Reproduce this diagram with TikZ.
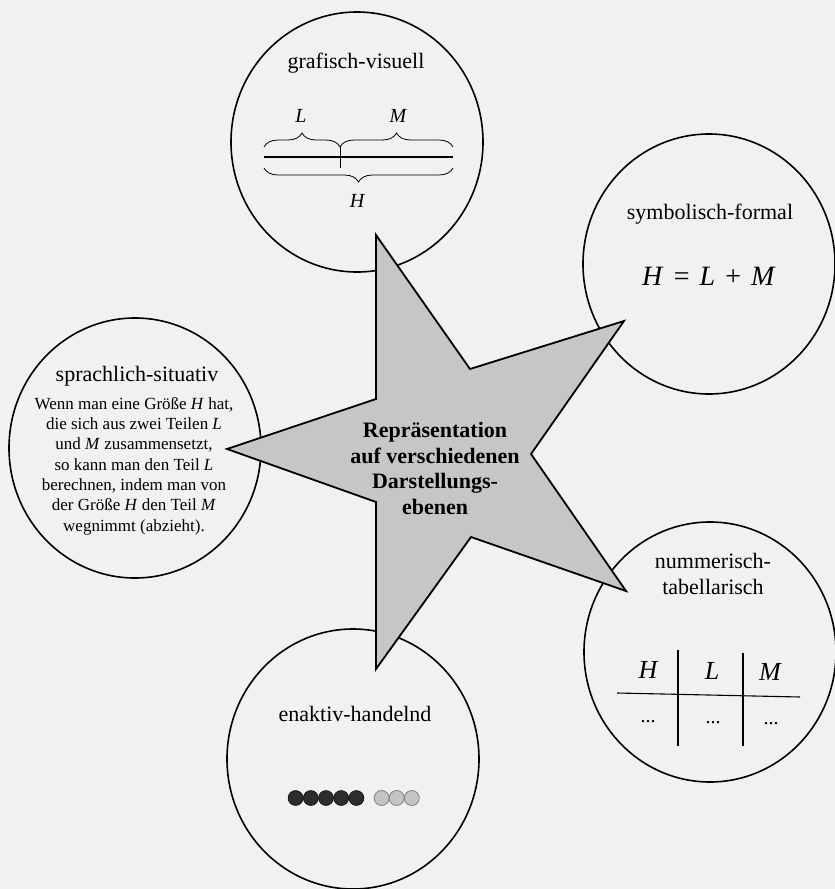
\documentclass[tikz,border=0pt]{standalone}
\usepackage{fontspec}
\setmainfont{Liberation Serif}
\usetikzlibrary{shapes.geometric,decorations.pathreplacing}
\definecolor{bgc}{RGB}{241,241,241}
\definecolor{starfill}{RGB}{198,198,198}
\definecolor{darkdot}{RGB}{45,45,45}
\definecolor{lightdot}{RGB}{196,196,196}
\begin{document}
\begin{tikzpicture}[x=1pt,y=-1pt,
  circ/.style={draw,line width=1.6pt,ellipse,minimum width=252pt,minimum height=260pt,inner sep=0pt},
  ttl/.style={font=\fontsize{22}{25}\selectfont,inner sep=0pt,anchor=base},
  bodytxt/.style={font=\fontsize{17}{20.3}\selectfont,align=center,inner sep=0pt},
  midtxt/.style={font=\fontsize{22}{25.7}\selectfont\bfseries,inner sep=0pt,anchor=base},
  lab/.style={font=\fontsize{20}{22}\selectfont\itshape,inner sep=0pt,anchor=base},
  tab/.style={font=\fontsize{26}{28}\selectfont\itshape,inner sep=0pt,anchor=base},
  tdots/.style={font=\fontsize{20}{22}\selectfont,inner sep=0pt,anchor=base},
  dkdot/.style={circle,fill=darkdot,draw=black,line width=0.5pt,minimum size=15pt,inner sep=0pt},
  ltdot/.style={circle,fill=lightdot,draw=gray,line width=0.8pt,minimum size=15pt,inner sep=0pt},
  brc/.style={decorate,line width=0.8pt}
]
\fill[bgc] (0,0) rectangle (835,889);
\useasboundingbox (0,0) rectangle (835,889);

% circles
\node[circ] (cgraf) at (357,142) {};
\node[circ] (csym) at (709,264) {};
\node[circ] (cspr) at (135,448) {};
\node[circ] (cnum) at (710,652) {};
\node[circ] (cena) at (353,759) {};

% star
\coordinate (s1) at (376,235);
\coordinate (s2) at (470,369);
\coordinate (s3) at (624,321);
\coordinate (s4) at (531,454);
\coordinate (s5) at (626,591);
\coordinate (s6) at (471,537);
\coordinate (s7) at (376,669);
\coordinate (s8) at (376,502);
\coordinate (s9) at (227,449);
\coordinate (s10) at (376,399);
\draw[fill=starfill,line width=1.8pt,line join=miter]
  (s1) -- (s2) -- (s3) -- (s4) -- (s5) -- (s6) -- (s7) -- (s8) -- (s9) -- (s10) -- cycle;

% centre text
\node[midtxt] (m1) at (435,437) {Repräsentation};
\node[midtxt] (m2) at (435,463) {auf verschiedenen};
\node[midtxt] (m3) at (435,488) {Darstellungs-};
\node[midtxt] (m4) at (435,514) {ebenen};

% grafisch-visuell
\node[ttl] (tgraf) at (356,68) {grafisch-visuell};
\coordinate (gl) at (264,157);
\coordinate (gm) at (340,157);
\coordinate (gr) at (453,157);
\draw[line width=1.8pt] (gl) -- (gr);
\draw[line width=0.8pt] ([yshift=10pt]gm) -- ([yshift=-11pt]gm);
\draw[brc,decoration={brace,amplitude=14pt}] ([yshift=10pt]gl) -- ([yshift=10pt]gm);
\draw[brc,decoration={brace,amplitude=14pt}] ([yshift=10pt]gm) -- ([yshift=10pt]gr);
\draw[brc,decoration={brace,amplitude=14pt}] ([yshift=-11pt]gr) -- ([yshift=-11pt]gl);
\node[lab] (gL) at (301,122) {L};
\node[lab] (gM) at (398,122) {M};
\node[lab] (gH) at (357,207) {H};

% symbolisch-formal
\node[ttl] (tsym) at (710,219) {symbolisch-formal};
\node[font=\fontsize{28}{30}\selectfont,inner sep=0pt,anchor=base] (formel) at (709,285) {\textit{H}\hspace{0.36em}=\hspace{0.36em}\textit{L}\hspace{0.36em}+\hspace{0.36em}\textit{M}};

% sprachlich-situativ
\node[ttl] (tspr) at (137,381) {sprachlich-situativ};
\node[bodytxt] (body) at (134,466) {Wenn man eine Größe \textit{H} hat,\\
die sich aus zwei Teilen \textit{L}\\
und \textit{M} zusammensetzt,\\
so kann man den Teil \textit{L}\\
berechnen, indem man von\\
der Größe \textit{H} den Teil \textit{M}\\
wegnimmt (abzieht).};

% nummerisch-tabellarisch
\node[ttl] (tnum1) at (713,568) {nummerisch-};
\node[ttl] (tnum2) at (713,594) {tabellarisch};
\coordinate (hl) at (617,693);
\coordinate (hr) at (800,697);
\coordinate (v1t) at (678,650);
\coordinate (v1b) at (678,746);
\coordinate (v2t) at (743,653);
\coordinate (v2b) at (743,746);
\draw[line width=1.1pt] (hl) -- (hr);
\draw[line width=1.1pt] (v1t) -- (v1b);
\draw[line width=1.1pt] (v2t) -- (v2b);
\node[tab] (nH) at (648,678) {H};
\node[tab] (nL) at (712,679) {L};
\node[tab] (nM) at (770,680) {M};
\node[tdots] (d1) at (648,722) {...};
\node[tdots] (d2) at (713,723) {...};
\node[tdots] (d3) at (771,724) {...};

% enaktiv-handelnd
\node[ttl] (tena) at (355,721) {enaktiv-handelnd};
\foreach \i/\xx in {1/295.6,2/310.8,3/326,4/341.2,5/356.4}
  \node[dkdot] (dk\i) at (\xx,798) {};
\foreach \i/\xx in {1/381.6,2/396.7,3/411.8}
  \node[ltdot] (lt\i) at (\xx,798) {};
\end{tikzpicture}
\end{document}
